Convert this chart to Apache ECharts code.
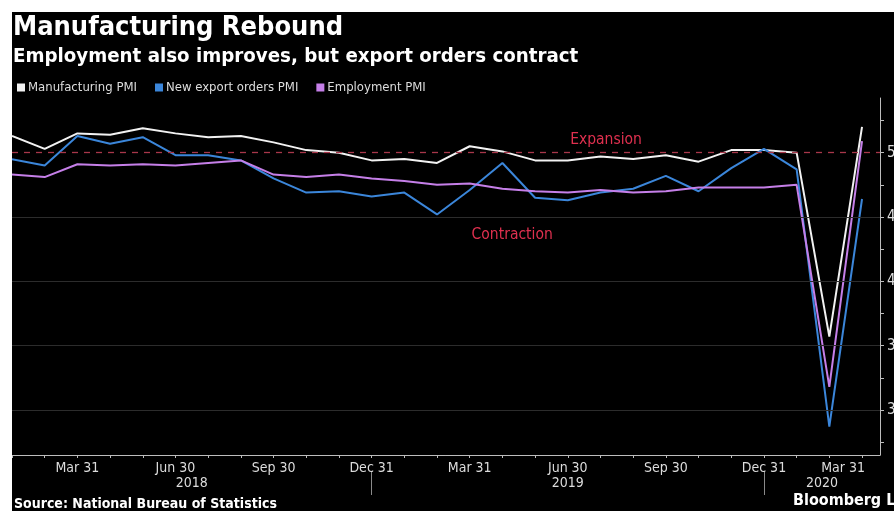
<!DOCTYPE html>
<html><head><meta charset="utf-8">
<script src="https://cdn.jsdelivr.net/npm/echarts@6/dist/echarts.min.js"></script>
<style>
html,body{margin:0;padding:0;background:#fff;width:894px;height:511px;overflow:hidden}
#c{position:absolute;left:12px;top:12px;width:882px;height:499px;}
</style>
</head><body><div id="c"></div>
<script>
const months = ['2018-01','2018-02','2018-03','2018-04','2018-05','2018-06','2018-07','2018-08','2018-09','2018-10','2018-11','2018-12',
  '2019-01','2019-02','2019-03','2019-04','2019-05','2019-06','2019-07','2019-08','2019-09','2019-10','2019-11','2019-12',
  '2020-01','2020-02','2020-03'];
const manufacturing = [51.3,50.3,51.5,51.4,51.9,51.5,51.2,51.3,50.8,50.2,50.0,49.4,49.5,49.2,50.5,50.1,49.4,49.4,49.7,49.5,49.8,49.3,50.2,50.2,50.0,35.7,52.0];
const exportOrders  = [49.5,49.0,51.3,50.7,51.2,49.8,49.8,49.4,48.0,46.9,47.0,46.6,46.9,45.2,47.1,49.2,46.5,46.3,46.9,47.2,48.2,47.0,48.8,50.3,48.7,28.7,46.4];
const employment    = [48.3,48.1,49.1,49.0,49.1,49.0,49.2,49.4,48.3,48.1,48.3,48.0,47.8,47.5,47.6,47.2,47.0,46.9,47.1,46.9,47.0,47.3,47.3,47.3,47.5,31.8,50.9];
const seriesNames = ['Manufacturing PMI','New export orders PMI','Employment PMI'];
const quarterMonths = ['2018-03','2018-06','2018-09','2018-12','2019-03','2019-06','2019-09','2019-12','2020-03'];
const quarterLabels = ['Mar 31','Jun 30','Sep 30','Dec 31','Mar 31','Jun 30','Sep 30','Dec 31','Mar 31'];
const years = ['2018','2019','2020'];
const yTickLabels = [30,35,40,45,50];
const yMinorTicks = [27.5,30,32.5,35,37.5,40,42.5,45,47.5,50,52.5];
const gridValues = [30,35,40,45];
const threshold = 50;

const FONT = '"DejaVu Sans Condensed","DejaVu Sans",sans-serif';
const X_MAX = months.length - 1 + 0.55;
const Y_MIN = 26.5, Y_MAX = 54.25;

const monthIdx = months.map((m,i)=>i);
const quarterIdx = quarterMonths.map(m=>months.indexOf(m));
const yearEndIdx = years.slice(0,-1).map(y=>months.indexOf(y+'-12'));
const yearBounds = [0].concat(yearEndIdx).concat([X_MAX]);
const yearCenters = years.map((y,i)=>(yearBounds[i]+yearBounds[i+1])/2);

const pts = arr => arr.map((v,i)=>[i,v]);
const colors = ['#f2f2f2','#3b86da','#c57fe8'];

const chart = echarts.init(document.getElementById('c'), null, {renderer:'canvas'});
const baseX = {type:'value', min:0, max:X_MAX, gridIndex:0, position:'bottom', splitLine:{show:false}};

chart.setOption({
  backgroundColor:'#000',
  animation:false,
  title:{
    text:'Manufacturing Rebound',
    subtext:'Employment also improves, but export orders contract',
    left:1, top:2, itemGap:6, padding:0,
    textStyle:{color:'#fff', fontFamily:FONT, fontWeight:'bold', fontSize:27},
    subtextStyle:{color:'#fff', fontFamily:FONT, fontWeight:'bold', fontSize:20.3}
  },
  legend:{
    data:seriesNames, left:2, top:64, icon:'rect', itemWidth:8, itemHeight:8, itemGap:18, padding:[5,3,5,3],
    textStyle:{color:'#ddd', fontFamily:FONT, fontSize:13, padding:[0,0,0,-2]}
  },
  grid:{left:0, right:14, top:86, bottom:56, containLabel:false, outerBoundsMode:'none'},
  xAxis:[
    Object.assign({}, baseX, {
      axisLine:{show:true, onZero:false, lineStyle:{color:'#bdbdbd', width:1}},
      axisTick:{show:true, customValues:monthIdx, length:3, lineStyle:{color:'#bdbdbd'}},
      axisLabel:{show:true, customValues:quarterIdx, margin:6, color:'#dcdcdc', fontFamily:FONT, fontSize:14,
        formatter:function(v){
          const k = quarterIdx.indexOf(Math.round(v));
          if(k<0) return '';
          if(k===quarterIdx.length-1) return '{s|'+quarterLabels[k]+'}';
          return quarterLabels[k];
        },
        rich:{s:{color:'#dcdcdc', fontFamily:FONT, fontSize:14, padding:[0,38,0,0]}}
      }
    }),
    Object.assign({}, baseX, {
      axisLine:{show:false, onZero:false}, axisTick:{show:false},
      axisLabel:{show:true, customValues:yearCenters, margin:21, color:'#dcdcdc', fontFamily:FONT, fontSize:14,
        formatter:function(v){
          let best=-1, d=1e9;
          yearCenters.forEach((c,i)=>{ if(Math.abs(c-v)<d){d=Math.abs(c-v);best=i;} });
          return d<0.01 ? years[best] : '';
        }}
    }),
    Object.assign({}, baseX, {
      offset:17,
      axisLine:{show:false, onZero:false},
      axisTick:{show:true, customValues:yearEndIdx, length:23, lineStyle:{color:'#8a8a8a', width:1}},
      axisLabel:{show:false}
    })
  ],
  yAxis:{
    type:'value', position:'right', min:Y_MIN, max:Y_MAX,
    axisLine:{show:true, onZero:false, lineStyle:{color:'#bdbdbd', width:1}},
    axisTick:{show:true, customValues:yMinorTicks, length:4, lineStyle:{color:'#bdbdbd'}},
    axisLabel:{show:true, customValues:yTickLabels, margin:7, color:'#dcdcdc', fontFamily:FONT, fontSize:15},
    splitLine:{show:false}
  },
  graphic:[
    {type:'text', left:2, top:485, style:{text:'Source: National Bureau of Statistics', fill:'#fff', font:'bold 14px '+FONT}},
    {type:'text', left:781, top:481, style:{text:'Bloomberg L.P.', fill:'#fff', font:'bold 16px '+FONT}}
  ],
  series:[
    {
      type:'line', name:'_ref', data:[], z:1, silent:true,
      markLine:{
        silent:true, symbol:'none', label:{show:false}, animation:false,
        data: gridValues.map(v=>({yAxis:v, lineStyle:{color:'#2c2c2c', width:1, type:'solid'}}))
          .concat([{yAxis:threshold, lineStyle:{color:'#a8374a', width:1.3, type:[6,6]}}])
      },
      markPoint:{
        symbol:'circle', symbolSize:0, silent:true,
        label:{show:true, position:'inside', color:'#e0304f', fontFamily:FONT, fontSize:15.5},
        data:[
          {coord:[18.17, 51.0], value:'Expansion', label:{formatter:'Expansion'}},
          {coord:[15.3, 43.6], value:'Contraction', label:{formatter:'Contraction'}}
        ]
      }
    },
    {type:'line', name:seriesNames[0], data:pts(manufacturing), showSymbol:false, z:3, color:colors[0], lineStyle:{width:2, color:colors[0]}},
    {type:'line', name:seriesNames[1], data:pts(exportOrders), showSymbol:false, z:3, color:colors[1], lineStyle:{width:2, color:colors[1]}},
    {type:'line', name:seriesNames[2], data:pts(employment), showSymbol:false, z:3, color:colors[2], lineStyle:{width:2, color:colors[2]}}
  ]
});
</script>
</body></html>
